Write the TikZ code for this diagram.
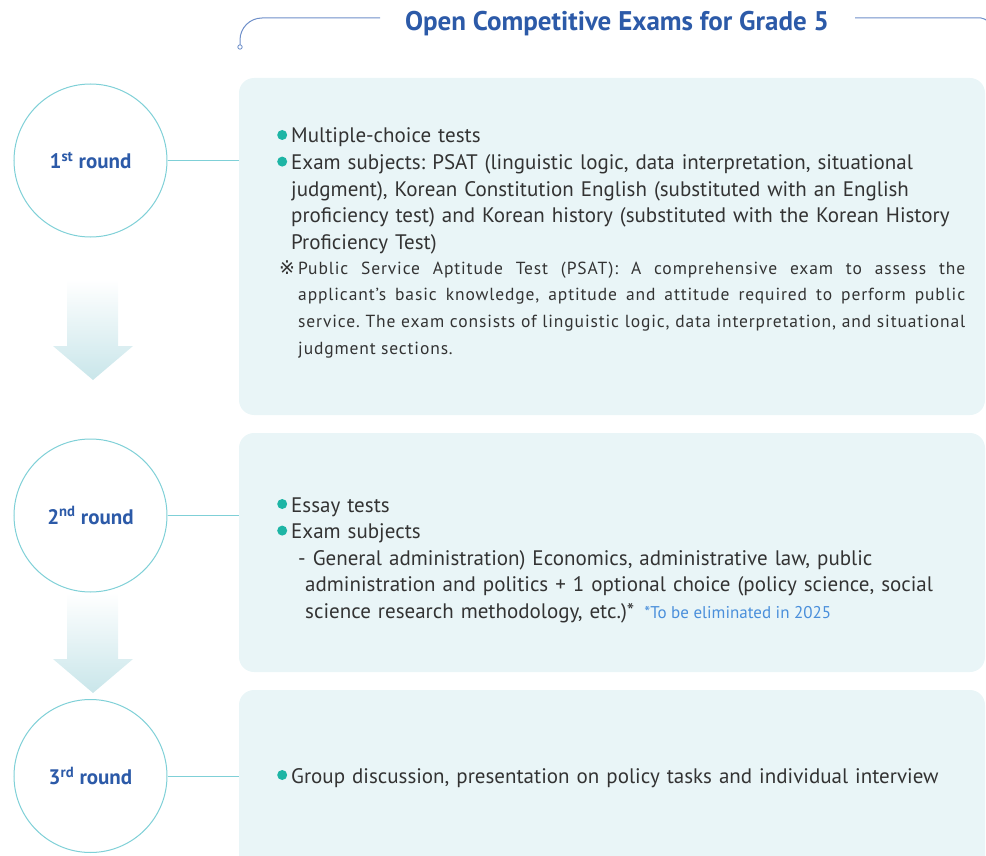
\documentclass[tikz,border=0pt]{standalone}
\usepackage{fontspec}
\setmainfont{PT Sans}
\newfontfamily\notefont[LetterSpace=5]{PT Sans}
\newfontfamily\remarkfont{PT Sans}
\newfontfamily\markfont{DejaVu Sans}
\usetikzlibrary{positioning}
\definecolor{Ink}{HTML}{333333}
\definecolor{Navy}{HTML}{2C5AA8}
\definecolor{Rule}{HTML}{6E8FC9}
\definecolor{Ring}{HTML}{7FD0D7}
\definecolor{Panel}{HTML}{E9F5F7}
\definecolor{Bullet}{HTML}{1DB5A5}
\definecolor{Remark}{HTML}{4A8FDB}
\definecolor{ArrowTeal}{HTML}{C9E6EA}
\tikzset{
  heading/.style={font=\fontsize{27}{30}\selectfont\bfseries,text=Navy,inner sep=0pt},
  rule/.style={draw=Rule,line width=1pt},
  roundnode/.style={circle,draw=Ring,line width=1pt,fill=white,minimum size=153pt,inner sep=0pt,
    font=\fontsize{21}{24}\selectfont\bfseries,text=Navy},
  panel/.style={fill=Panel,rounded corners=15pt},
  link/.style={draw=Ring,line width=1pt},
  body/.style={anchor=base west,inner sep=0pt,text width=700pt,align=left,text=Ink,
    font=\fontsize{21}{26.6}\selectfont},
  psat/.style={anchor=base west,inner sep=0pt,text width=667pt,align=justify,text=Ink,
    font=\notefont\fontsize{17.5}{26.7}\selectfont},
  refsign/.style={anchor=base west,inner sep=0pt,text=Ink,font=\markfont\fontsize{19}{19}\selectfont},
  flowdown/.style={top color=white,bottom color=ArrowTeal}
}
\newcommand{\dotbullet}{\makebox[14pt][l]{\tikz[baseline=0pt]{\fill[Bullet] (5pt,8pt) circle (5pt);}}}
\newcommand{\hang}{\hspace*{14pt}}
\frenchspacing

\begin{document}
\begin{tikzpicture}[x=1pt,y=-1pt]
  \useasboundingbox (0,0) rectangle (986,856);
  % title with its two rules
  \node[heading,anchor=base] (title) at (617,31) {Open Competitive Exams for Grade 5};
  \coordinate (hook) at (240,47);
  \draw[rule,rounded corners=22pt] (380,18) -- (240,18) -- (hook);
  \draw[Rule,fill=white,line width=0.8pt] (hook) circle (2.2pt);
  \draw[rule,rounded corners=2pt] (855,18) -- (983,18) -- (986,20);

  % panels
  \fill[panel] (239,78) rectangle (985,415);
  \fill[panel] (239,433) rectangle (985,672);
  \fill[panel] (239,690) rectangle (985,880);

  % arrows between the rounds
  \shade[flowdown] (67,280) -- (118,280) -- (118,346) -- (133,346) -- (93,380) -- (53,346) -- (67,346) -- cycle;
  \shade[flowdown] (67,593) -- (118,593) -- (118,659) -- (133,659) -- (93,693) -- (53,659) -- (67,659) -- cycle;

  % rounds
  \node[roundnode] (r1) at (90.5,160.5) {1\textsuperscript{st} round};
  \node[roundnode] (r2) at (90.5,515.5) {2\textsuperscript{nd} round};
  \node[roundnode] (r3) at (90.5,776) {3\textsuperscript{rd} round};
  \coordinate (p1) at (239,160.5);
  \coordinate (p2) at (239,515.5);
  \coordinate (p3) at (239,776);
  \draw[link] (r1) -- (p1);
  \draw[link] (r2) -- (p2);
  \draw[link] (r3) -- (p3);

  % first round
  \node[body] (t1) at (277,143) {\dotbullet Multiple-choice tests\\
    \dotbullet Exam subjects: PSAT (linguistic logic, data interpretation, situational\\
    \hang judgment), Korean Constitution English (substituted with an English\\
    \hang proficiency test) and Korean history (substituted with the Korean History\\
    \hang Proficiency Test)};
  \node[refsign] (refmark) at (279,274) {※};
  \node[psat] (n1) at (298,274) {\spaceskip=.3em plus 2em minus .12em\relax
    Public Service Aptitude Test (PSAT): A comprehensive exam to assess the\linebreak
    applicant’s basic knowledge, aptitude and attitude required to perform public\linebreak
    service. The exam consists of linguistic logic, data interpretation, and situational\linebreak
    judgment sections.};

  % second round
  \node[body] (t2) at (277,512) {\dotbullet Essay tests\\
    \dotbullet Exam subjects\\
    \hspace*{21pt}- General administration) Economics, administrative law, public\\
    \hspace*{28pt}administration and politics + 1 optional choice (policy science, social\\
    \hspace*{28pt}science research methodology, etc.)*\hspace{10pt}{\remarkfont\spaceskip=0pt\color{Remark}\fontsize{17}{17}\selectfont *To be eliminated in 2025}};

  % third round
  \node[body] (t3) at (277,783) {\dotbullet Group discussion, presentation on policy tasks and individual interview};
\end{tikzpicture}
\end{document}
